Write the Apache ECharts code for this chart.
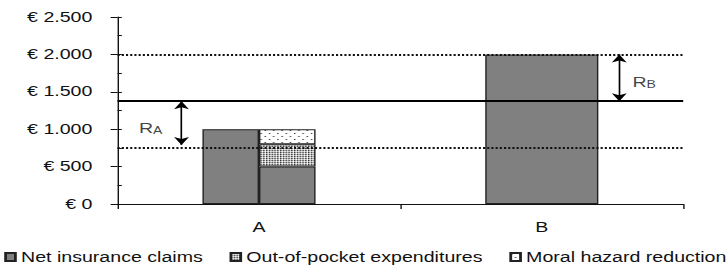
<!DOCTYPE html>
<html>
<head>
<meta charset="utf-8">
<script src="https://cdn.jsdelivr.net/npm/echarts@6/dist/echarts.min.js"></script>
<style>
  html, body { margin: 0; padding: 0; background: #fff; overflow: hidden; }
  /* the reference is stretched sideways, so draw narrow and widen */
  #chart { width: 520px; height: 269px; transform: scale(1.4, 1); transform-origin: 0 0; }
</style>
</head>
<body>
<div id="chart"></div>
<script>
const categories = ['A', 'B'];
const claimsWhole = [1000, '-'];   // left bar of A
const claimsSplit = [500, '-'];    // right bar of A, bottom part
const outOfPocket = [300, '-'];
const moralHazard = [200, '-'];
const claimsB = ['-', 2000];
const lineTop = 2000;
const lineMid = 1375;
const lineLow = 750;
const yTicks = [0, 500, 1000, 1500, 2000, 2500];

const FONT = 'Liberation Sans, Arial, sans-serif';

function makePattern(w, h, draw) {
    let c = document.createElement('canvas');
    c.width = w; c.height = h;
    let ctx = c.getContext('2d');
    ctx.fillStyle = '#fff';
    ctx.fillRect(0, 0, w, h);
    draw(ctx);
    return { image: c.toDataURL(), repeat: 'repeat' };
}
// dense dots
const densePattern = makePattern(2, 2, ctx => {
    ctx.fillStyle = '#333';
    ctx.fillRect(0, 0, 1, 1);
    ctx.fillStyle = '#aaa';
    ctx.fillRect(0, 1, 1, 1);
    ctx.fillStyle = '#ddd';
    ctx.fillRect(1, 0, 1, 1);
});
// sparse dots
const sparsePattern = makePattern(6, 6, ctx => {
    ctx.fillStyle = '#333';
    ctx.fillRect(0, 1, 1, 1);
    ctx.fillRect(3, 4, 1, 1);
});

const border = { borderColor: '#222', borderWidth: 1 };

function euro(v) {
    return '€ ' + String(v).replace(/\B(?=(\d{3})+(?!\d))/g, '.');
}

let chart = echarts.init(document.getElementById('chart'), null, { renderer: 'svg' });
chart.setOption({
    animation: false,
    backgroundColor: '#fff',
    textStyle: { fontFamily: FONT },
    grid: { left: 84, right: 32, top: 17, bottom: 65 },
    legend: {
        left: 3,
        top: 250,
        padding: 0,
        itemGap: 19,
        itemWidth: 7,
        itemHeight: 8,
        icon: 'rect',
        textStyle: { fontFamily: FONT, fontSize: 14, color: '#111', padding: [0, 0, 0, -1] },
        data: ['Net insurance claims', 'Out-of-pocket expenditures', 'Moral hazard reduction']
    },
    xAxis: [{
        type: 'category',
        data: categories,
        axisLine: { lineStyle: { color: '#111', width: 1 } },
        axisTick: { show: true, length: 5, lineStyle: { color: '#111' } },
        axisLabel: { color: '#111', fontSize: 14, margin: 16, fontFamily: FONT }
    }, {
        type: 'category',
        data: categories,
        show: false
    }, {
        type: 'value',
        min: 0,
        max: 2,
        show: false
    }],
    yAxis: [{
        type: 'value',
        min: yTicks[0],
        max: yTicks[yTicks.length - 1],
        interval: 500,
        axisLine: { show: true, lineStyle: { color: '#111', width: 1 } },
        axisTick: { show: true, length: 5, lineStyle: { color: '#111' } },
        axisLabel: { color: '#111', fontSize: 14, margin: 18, fontFamily: FONT, formatter: euro },
        splitLine: { show: false }
    }, {
        type: 'value',
        position: 'left',
        min: 0,
        max: 2500,
        interval: 250,
        axisLine: { show: false },
        axisTick: { show: true, inside: true, length: 3, lineStyle: { color: '#111' } },
        axisLabel: { show: false },
        splitLine: { show: false }
    }],
    series: [{
        name: 'Net insurance claims',
        type: 'bar',
        stack: 'whole',
        barWidth: '20%',
        barGap: 0,
        data: claimsWhole,
        itemStyle: { color: '#808080', ...border }
    }, {
        name: 'Net insurance claims',
        type: 'bar',
        stack: 'split',
        barWidth: '20%',
        data: claimsSplit,
        itemStyle: { color: '#808080', ...border }
    }, {
        name: 'Out-of-pocket expenditures',
        type: 'bar',
        stack: 'split',
        barWidth: '20%',
        data: outOfPocket,
        itemStyle: { color: densePattern, ...border }
    }, {
        name: 'Moral hazard reduction',
        type: 'bar',
        stack: 'split',
        barWidth: '20%',
        data: moralHazard,
        itemStyle: { color: sparsePattern, ...border }
    }, {
        name: 'Net insurance claims',
        type: 'bar',
        xAxisIndex: 1,
        barWidth: '40%',
        data: claimsB,
        itemStyle: { color: '#808080', ...border }
    }, {
        // reference lines
        type: 'scatter',
        xAxisIndex: 2,
        data: [],
        z: 5,
        markLine: {
            silent: true,
            symbol: 'none',
            label: { show: false },
            data: [
                { yAxis: lineMid, lineStyle: { type: 'solid', width: 2, color: '#000' } },
                { yAxis: lineTop, lineStyle: { type: [1.5, 1.5], width: 2, color: '#111' } },
                { yAxis: lineLow, lineStyle: { type: [1.5, 1.5], width: 2, color: '#111' } }
            ]
        }
    }, {
        // R_A and R_B arrows with their labels
        type: 'scatter',
        xAxisIndex: 2,
        symbolSize: 0,
        z: 6,
        data: [
            { value: [0.117, 1010], label: { formatter: '{r|R}{s|A}' } },
            { value: [1.862, 1625], label: { formatter: '{r|R}{s|B}' } }
        ],
        label: {
            show: true,
            position: 'inside',
            color: '#111',
            rich: {
                r: { fontSize: 14, fontFamily: FONT, color: '#111' },
                s: { fontSize: 10, fontFamily: FONT, color: '#111', verticalAlign: 'bottom' }
            }
        },
        markLine: {
            silent: true,
            symbol: ['arrow', 'arrow'],
            symbolSize: 8,
            label: { show: false },
            lineStyle: { type: 'solid', width: 1.2, color: '#000' },
            data: [
                [{ coord: [0.226, lineMid] }, { coord: [0.226, 790] }],
                [{ coord: [1.774, lineTop] }, { coord: [1.774, lineMid] }]
            ]
        }
    }]
});
</script>
</body>
</html>
